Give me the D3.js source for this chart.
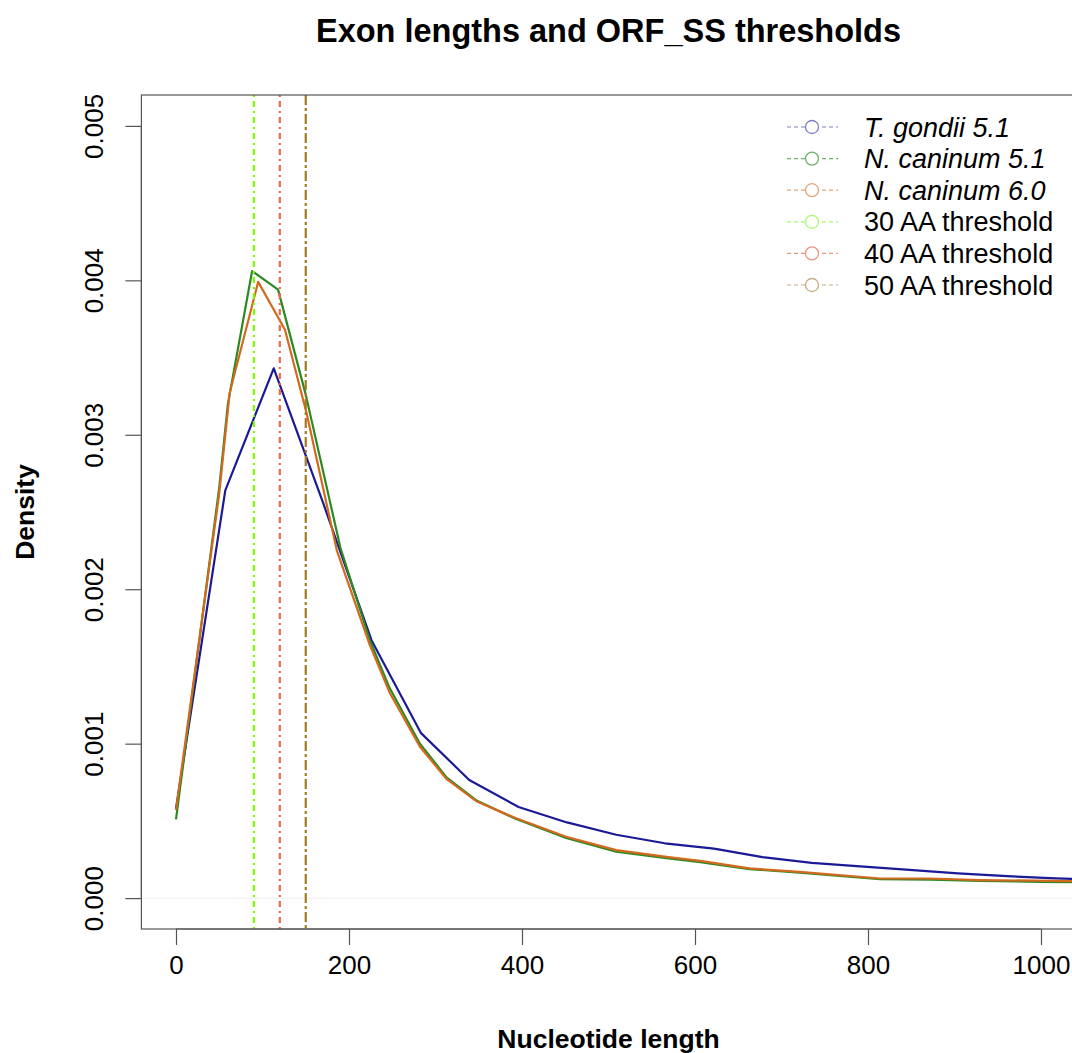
<!DOCTYPE html>
<html>
<head>
<meta charset="UTF-8" />
<title>Exon lengths and ORF_SS thresholds</title>
<script src="https://d3js.org/d3.v7.min.js"></script>
<style>
  body { margin: 0; background: #fff; }
  svg { font-family: "Liberation Sans", Arial, sans-serif; }
</style>
</head>
<body>
<svg id="chart" width="1072" height="1053"></svg>
<script>
// series (nucleotide length, density)
const tgondiiX = [0, 57, 113, 170, 226, 283, 339, 396, 452, 509, 565, 622, 678, 735, 791, 848, 904, 961, 1017, 1074];
const tgondiiY = [0.00058, 0.00264, 0.00343, 0.00256, 0.00167, 0.00107, 0.000765, 0.00059, 0.00049, 0.00041, 0.000355, 0.00032, 0.000265, 0.000228, 0.000205, 0.000183, 0.00016, 0.000142, 0.000128, 0.000118];

const nc51X = [0, 50, 60, 88, 118, 150, 190, 224, 247, 282, 313, 348, 394, 451, 509, 567, 606, 663, 721, 814, 872, 929, 1000, 1074];
const nc51Y = [0.00051, 0.00266, 0.0032, 0.00406, 0.00394, 0.00326, 0.00227, 0.00167, 0.00136, 0.001, 0.00078, 0.00063, 0.00051, 0.00039, 0.0003, 0.000258, 0.000232, 0.000188, 0.000165, 0.000122, 0.00012, 0.000112, 0.000105, 0.0001];

const nc60X = [0, 50, 62, 95, 126, 151, 186, 224, 247, 282, 313, 348, 375, 394, 451, 509, 567, 606, 663, 721, 814, 872, 929, 1036, 1074];
const nc60Y = [0.00057, 0.00262, 0.00327, 0.00399, 0.00368, 0.00314, 0.00225, 0.00164, 0.00133, 0.00098, 0.00077, 0.000625, 0.00056, 0.000515, 0.000397, 0.000311, 0.000267, 0.000241, 0.000192, 0.00017, 0.000127, 0.000127, 0.000117, 0.00011, 0.000108];

const thresholds = [90, 120, 150];

const legendLabels = ["T. gondii 5.1", "N. caninum 5.1", "N. caninum 6.0", "30 AA threshold", "40 AA threshold", "50 AA threshold"];
const xTicks = [0, 200, 400, 600, 800, 1000];
const yTicks = [0, 0.001, 0.002, 0.003, 0.004, 0.005];

const seriesColors = ["#1a1a96", "#2a8a22", "#d2691e"];
const threshColors = ["#7cfc00", "#e8684a", "#a6791f"];
const threshDash = ["2,4,6,4", "2,4,6,4", "10,3,3,3"];
const legendColors = ["#7f7fc6", "#70b06a", "#e2a57c", "#a8f870", "#ec9482", "#c4aa82"];

const svg = d3.select('#chart');
const pLeft = 141.4, pRight = 1075.6, pTop = 95, pBottom = 929;
const font = '"Liberation Sans", Arial, sans-serif';

const x = d3.scaleLinear().domain([-40, 1040]).range([pLeft, pRight]);
const y = d3.scaleLinear().domain([-0.0002, 0.0052]).range([pBottom, pTop]);

svg.append('defs').append('clipPath').attr('id', 'plotclip')
  .append('rect').attr('x', pLeft).attr('y', pTop).attr('width', pRight - pLeft).attr('height', pBottom - pTop);

const plot = svg.append('g').attr('clip-path', 'url(#plotclip)');

// faint zero line
plot.append('line')
  .attr('x1', pLeft).attr('x2', pRight)
  .attr('y1', y(0)).attr('y2', y(0))
  .attr('stroke', '#eeeeee').attr('stroke-width', 1);

const line = d3.line().x(d => x(d[0])).y(d => y(d[1]));
const series = [
  d3.zip(tgondiiX, tgondiiY),
  d3.zip(nc51X, nc51Y),
  d3.zip(nc60X, nc60Y)
];
series.forEach((s, i) => {
  plot.append('path')
    .datum(s)
    .attr('d', line)
    .attr('fill', 'none')
    .attr('stroke', seriesColors[i])
    .attr('stroke-width', 2.2)
    .attr('stroke-linejoin', 'round');
});

thresholds.forEach((t, i) => {
  plot.append('line')
    .attr('x1', x(t)).attr('x2', x(t))
    .attr('y1', pTop).attr('y2', pBottom)
    .attr('stroke', threshColors[i])
    .attr('stroke-width', 2.2)
    .attr('stroke-dasharray', threshDash[i]);
});

// box
svg.append('rect')
  .attr('x', pLeft).attr('y', pTop)
  .attr('width', pRight - pLeft).attr('height', pBottom - pTop)
  .attr('fill', 'none').attr('stroke', '#555').attr('stroke-width', 1.2);

// x axis
const xAxis = d3.axisBottom(x).tickValues(xTicks).tickSize(16).tickPadding(11).tickFormat(d3.format('d'));
const gx = svg.append('g').attr('transform', `translate(0,${pBottom})`).call(xAxis);
gx.select('.domain').attr('d', `M${x(0)},0H${x(1000)}`).attr('stroke', '#555').attr('stroke-width', 1.2);
gx.selectAll('.tick line').attr('stroke', '#555').attr('stroke-width', 1.2);
gx.selectAll('.tick text').attr('font-size', 26).attr('fill', '#000').attr('font-family', font);

// y axis
const yAxis = d3.axisLeft(y).tickValues(yTicks).tickSize(16).tickFormat(d3.format('.3f'));
const gy = svg.append('g').attr('transform', `translate(${pLeft},0)`).call(yAxis);
gy.select('.domain').attr('d', `M0,${y(0)}V${y(0.005)}`).attr('stroke', '#555').attr('stroke-width', 1.2);
gy.selectAll('.tick line').attr('stroke', '#555').attr('stroke-width', 1.2);
gy.selectAll('.tick text')
  .attr('font-size', 26).attr('fill', '#000')
  .attr('font-family', font)
  .attr('x', null).attr('dy', null)
  .attr('text-anchor', 'middle')
  .attr('transform', 'translate(-38,0) rotate(-90)');

// title and axis labels
svg.append('text').attr('x', (pLeft + pRight) / 2).attr('y', 42)
  .attr('text-anchor', 'middle').attr('font-size', 32.5).attr('font-weight', 'bold')
  .text('Exon lengths and ORF_SS thresholds');
svg.append('text').attr('x', (pLeft + pRight) / 2).attr('y', 1048)
  .attr('text-anchor', 'middle').attr('font-size', 26.5).attr('font-weight', 'bold')
  .text('Nucleotide length');
svg.append('text')
  .attr('transform', `translate(34,${(pTop + pBottom) / 2}) rotate(-90)`)
  .attr('text-anchor', 'middle').attr('font-size', 26.5).attr('font-weight', 'bold')
  .text('Density');

// legend
const lg = svg.append('g');
legendLabels.forEach((lab, i) => {
  const ly = 127 + i * 31.6;
  lg.append('line').attr('x1', 787).attr('x2', 838).attr('y1', ly).attr('y2', ly)
    .attr('stroke', legendColors[i]).attr('stroke-width', 1.2).attr('stroke-dasharray', '4,3');
  lg.append('circle').attr('cx', 812).attr('cy', ly).attr('r', 6.5)
    .attr('fill', '#fff').attr('stroke', legendColors[i]).attr('stroke-width', 1.3);
  lg.append('text').attr('x', 864).attr('y', ly + 9.5)
    .attr('font-size', 27)
    .attr('font-style', i < 3 ? 'italic' : 'normal')
    .text(lab);
});
</script>
</body>
</html>
